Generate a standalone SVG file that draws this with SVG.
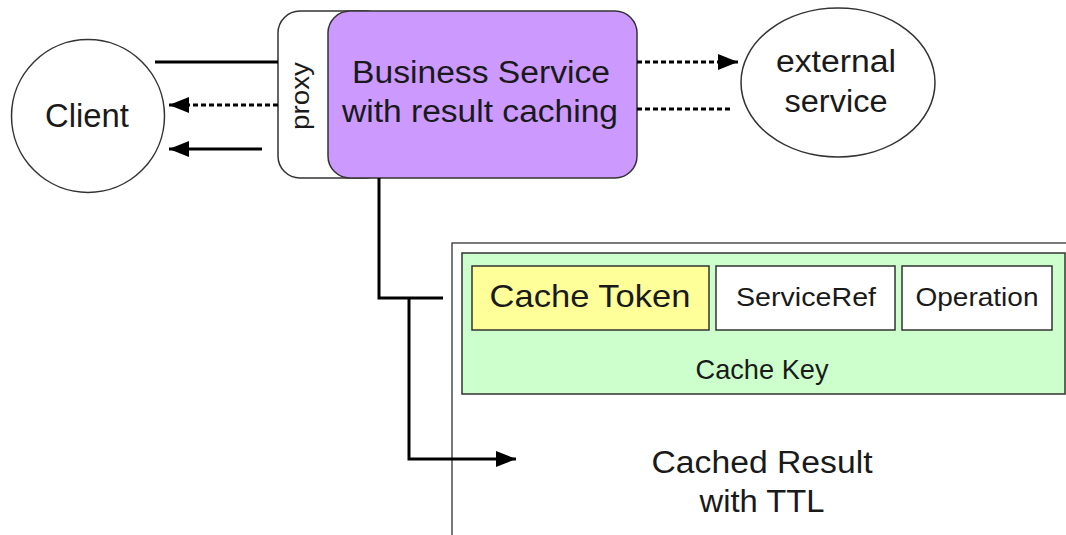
<svg xmlns="http://www.w3.org/2000/svg" width="1066" height="535" viewBox="0 0 1066 535">
<style>
text{font-family:"Liberation Sans",Arial,sans-serif;fill:#1a1a1a;text-anchor:middle}
.shape{stroke:#333;stroke-width:1.5}
.solid{stroke:#000;stroke-width:3;fill:none}
.dot{stroke:#000;stroke-width:2.8;fill:none;stroke-dasharray:5,3}
</style>
<defs>
<marker id="ah" markerUnits="userSpaceOnUse" markerWidth="22" markerHeight="18" refX="20" refY="9" orient="auto">
<path d="M0,1 L20,9 L0,17 Z" fill="#000"/>
</marker>
</defs>
<g id="outer-box">
<rect x="452" y="243" width="630" height="310" fill="#fff" stroke="#333" stroke-width="1.3"/>
</g>
<g id="client">
<circle cx="88" cy="116" r="76.5" fill="#fff" class="shape"/>
<text x="87" y="127" font-size="33" textLength="84" lengthAdjust="spacingAndGlyphs">Client</text>
</g>
<g id="external">
<ellipse cx="838" cy="82.5" rx="97" ry="74.5" fill="#fff" class="shape"/>
<text x="836" y="72" font-size="31" textLength="120" lengthAdjust="spacingAndGlyphs">external</text>
<text x="836" y="112" font-size="31" textLength="103" lengthAdjust="spacingAndGlyphs">service</text>
</g>
<g id="proxy">
<rect x="278" y="11" width="110" height="167" rx="22" fill="#fff" class="shape"/>
<text transform="translate(309,96) rotate(-90)" x="0" y="0" font-size="25" textLength="68" lengthAdjust="spacingAndGlyphs">proxy</text>
</g>
<g id="business">
<rect x="328" y="11" width="309" height="167" rx="22" fill="#CC99FF" class="shape"/>
<text x="481" y="83" font-size="31" textLength="258" lengthAdjust="spacingAndGlyphs">Business Service</text>
<text x="480" y="122" font-size="31" textLength="276" lengthAdjust="spacingAndGlyphs">with result caching</text>
</g>
<g id="cache-key">
<rect x="462" y="253" width="603" height="141" fill="#CCFFCC" class="shape"/>
<text x="762" y="379" font-size="28" textLength="133" lengthAdjust="spacingAndGlyphs">Cache Key</text>
</g>
<g id="cache-token">
<rect x="472" y="266" width="237" height="64" fill="#FFFF99" class="shape"/>
<text x="590" y="307" font-size="32" textLength="201" lengthAdjust="spacingAndGlyphs">Cache Token</text>
</g>
<g id="serviceref">
<rect x="716" y="266" width="179" height="64" fill="#fff" class="shape"/>
<text x="806" y="306" font-size="26" textLength="140" lengthAdjust="spacingAndGlyphs">ServiceRef</text>
</g>
<g id="operation">
<rect x="902" y="266" width="150" height="64" fill="#fff" class="shape"/>
<text x="977" y="306" font-size="26" textLength="123" lengthAdjust="spacingAndGlyphs">Operation</text>
</g>
<g id="cached-result">
<text x="762" y="473" font-size="31" textLength="221" lengthAdjust="spacingAndGlyphs">Cached Result</text>
<text x="762" y="512" font-size="31" textLength="125" lengthAdjust="spacingAndGlyphs">with TTL</text>
</g>
<g id="connectors">
<line x1="155" y1="62" x2="278" y2="62" class="solid"/>
<line x1="278" y1="105" x2="169" y2="105" class="dot" marker-end="url(#ah)"/>
<line x1="262" y1="149" x2="169" y2="149" class="solid" marker-end="url(#ah)"/>
<line x1="637" y1="62" x2="738" y2="62" class="dot" marker-end="url(#ah)"/>
<line x1="637" y1="109" x2="733" y2="109" class="dot"/>
<polyline points="379,178 379,298 443,298" class="solid"/>
<polyline points="409,298 409,459 516,459" class="solid" marker-end="url(#ah)"/>
</g>
</svg>
